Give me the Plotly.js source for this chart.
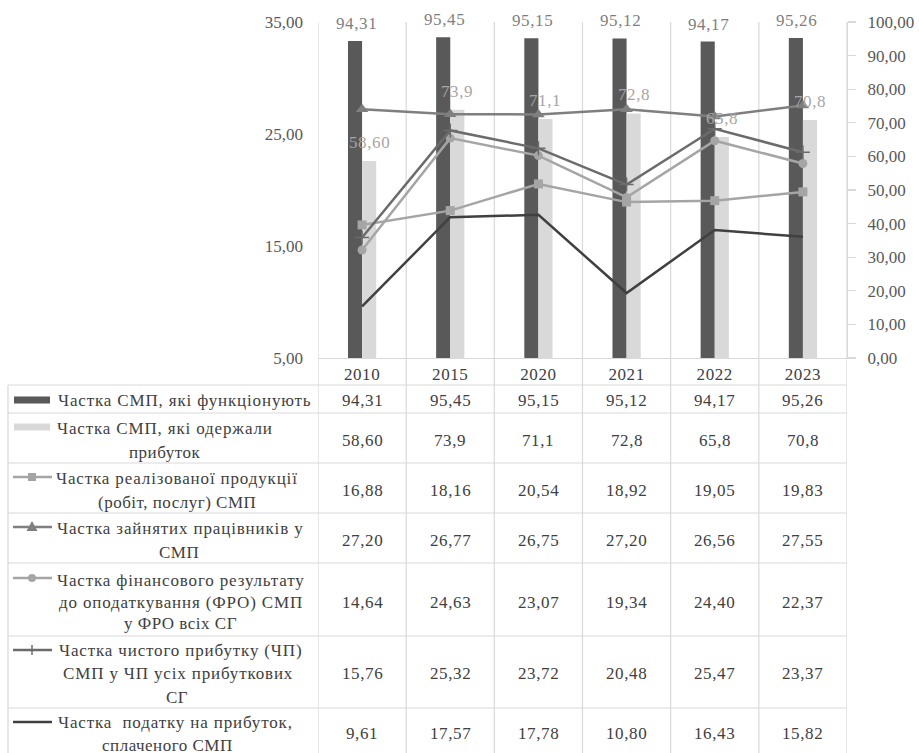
<!DOCTYPE html>
<html><head><meta charset="utf-8">
<script src="https://cdn.plot.ly/plotly-3.0.1.min.js"></script>
<style>html,body{margin:0;padding:0;background:#fff}#chart{width:919px;height:753px}</style>
</head><body><div id="chart"></div>
<script>
const years = ['2010','2015','2020','2021','2022','2023'];
const functioning = [94.31, 95.45, 95.15, 95.12, 94.17, 95.26];
const profitable = [58.60, 73.9, 71.1, 72.8, 65.8, 70.8];
const profitableLabels = ['58,60','73,9','71,1','72,8','65,8','70,8'];
const salesShare = [16.88, 18.16, 20.54, 18.92, 19.05, 19.83];
const employedShare = [27.20, 26.77, 26.75, 27.20, 26.56, 27.55];
const preTaxShare = [14.64, 24.63, 23.07, 19.34, 24.40, 22.37];
const netProfitShare = [15.76, 25.32, 23.72, 20.48, 25.47, 23.37];
const taxShare = [9.61, 17.57, 17.78, 10.80, 16.43, 15.82];
const rowNames = [
  ['Частка СМП, які функціонують'],
  ['Частка СМП, які одержали', 'прибуток'],
  ['Частка реалізованої продукції', '(робіт, послуг) СМП'],
  ['Частка зайнятих працівників у', 'СМП'],
  ['Частка фінансового результату', 'до оподаткування (ФРО) СМП', 'у ФРО всіх СГ'],
  ['Частка чистого прибутку (ЧП)', 'СМП у ЧП усіх прибуткових', 'СГ'],
  ['Частка&nbsp; податку на прибуток,', 'сплаченого СМП']
];

const W = 919, H = 753;
const PL = 318, PR = 847, PT = 22, PB = 358;
const X = px => px / W;
const Y = py => 1 - py / H;
const fmt2 = v => v.toFixed(2).replace('.', ',');
const idx = years.map((_, i) => i);
const spaced = (t, s) => `<span style="letter-spacing:${s}px">${t}</span>`;

const C_DARK = '#595959', C_LIGHT = '#d9d9d9';
const C_SALES = '#a5a5a5', C_EMP = '#7f7f7f', C_PRE = '#a5a5a5', C_NET = '#6b6b6b', C_TAX = '#404040';

const traces = [
  {type:'bar', x:idx, y:functioning, yaxis:'y', marker:{color:C_DARK}, hoverinfo:'skip'},
  {type:'bar', x:idx, y:profitable, yaxis:'y', marker:{color:C_LIGHT}, hoverinfo:'skip'},
  {type:'scatter', mode:'lines+markers', x:idx, y:salesShare, yaxis:'y2',
   line:{color:C_SALES, width:2.5}, marker:{symbol:'square', size:9, color:C_SALES}},
  {type:'scatter', mode:'lines+markers', x:idx, y:employedShare, yaxis:'y2',
   line:{color:C_EMP, width:2.5}, marker:{symbol:'triangle-up', size:11, color:C_EMP}},
  {type:'scatter', mode:'lines+markers', x:idx, y:preTaxShare, yaxis:'y2',
   line:{color:C_PRE, width:2.5}, marker:{symbol:'circle', size:9, color:C_PRE}},
  {type:'scatter', mode:'lines+markers', x:idx, y:netProfitShare, yaxis:'y2',
   line:{color:C_NET, width:2.5}, marker:{symbol:'cross-thin', size:10, color:C_NET, line:{color:C_NET, width:1.5}}},
  {type:'scatter', mode:'lines', x:idx, y:taxShare, yaxis:'y2',
   line:{color:C_TAX, width:2.5}}
];

const annotations = [];
const shapes = [];

// bar value labels
idx.forEach(i => {
  annotations.push({xref:'x', yref:'y', x:i, y:functioning[i], text:spaced(fmt2(functioning[i]), 0.6),
    xshift:-6, yshift:6, yanchor:'bottom', showarrow:false, font:{color:'#7f7f7f', size:17}});
  annotations.push({xref:'x', yref:'y', x:i, y:profitable[i], text:spaced(profitableLabels[i], 0.6),
    xshift:7, yshift:7, yanchor:'bottom', showarrow:false, font:{color:'#a6a6a6', size:17}});
});

// data table
const rowCenters = [400, 440, 490, 540, 602, 673, 733.5];
const lineYs = [[400], [428, 452], [478, 502], [528, 552], [580, 602, 623], [650, 673, 697], [722, 745]];
const lineXs = [[184], [165, 164], [177, 177], [180, 179], [181, 181, 180], [180, 178, 177], [175, 167]];
const tableRows = [
  functioning.map(fmt2), profitableLabels, salesShare.map(fmt2), employedShare.map(fmt2),
  preTaxShare.map(fmt2), netProfitShare.map(fmt2), taxShare.map(fmt2)
];
rowNames.forEach((lines, k) => {
  lines.forEach((line, j) => {
    annotations.push({xref:'paper', yref:'paper', x:X(lineXs[k][j]), y:Y(lineYs[k][j]), xanchor:'center', yanchor:'middle',
      text:spaced(line, j === lines.length - 1 && lines.length > 1 ? 0.5 : 0.85), showarrow:false, font:{color:'#404040', size:17}});
  });
  tableRows[k].forEach((t, i) => {
    annotations.push({xref:'x', yref:'paper', x:i, y:Y(rowCenters[k]), yanchor:'middle',
      text:spaced(t, 0.6), showarrow:false, font:{color:'#404040', size:17}});
  });
});

const GRID = '#d9d9d9';
// horizontal table lines
[385, 413, 463, 513, 563, 636, 708].forEach(py => {
  shapes.push({type:'line', xref:'paper', yref:'paper', x0:X(8), x1:X(PR), y0:Y(py), y1:Y(py), line:{color:GRID, width:1.2}});
});
// vertical lines at category boundaries (plot + table)
for (let i = 0; i <= years.length; i++) {
  shapes.push({type:'line', xref:'x', yref:'paper', x0:i-0.5, x1:i-0.5, y0:Y(PT), y1:0, layer:'below', line:{color:GRID, width:1.2}});
}
shapes.push({type:'line', xref:'paper', yref:'paper', x0:X(8), x1:X(8), y0:Y(385), y1:0, line:{color:GRID, width:1.2}});

// legend keys
const keyY = [400, 427, 477, 527, 578, 650, 722];
shapes.push({type:'rect', xref:'paper', yref:'paper', x0:X(14), x1:X(50), y0:Y(keyY[0]-3.5), y1:Y(keyY[0]+3.5), fillcolor:C_DARK, line:{width:0}});
shapes.push({type:'rect', xref:'paper', yref:'paper', x0:X(14), x1:X(50), y0:Y(keyY[1]-3.5), y1:Y(keyY[1]+3.5), fillcolor:C_LIGHT, line:{width:0}});
[[2, C_SALES], [3, C_EMP], [4, C_PRE], [5, C_NET], [6, C_TAX]].forEach(([k, c]) => {
  shapes.push({type:'line', xref:'paper', yref:'paper', x0:X(13), x1:X(52), y0:Y(keyY[k]), y1:Y(keyY[k]), line:{color:c, width:2.5}});
});
shapes.push({type:'rect', xref:'paper', yref:'paper', x0:X(28), x1:X(36), y0:Y(keyY[2]-4), y1:Y(keyY[2]+4), fillcolor:C_SALES, line:{width:0}});
shapes.push({type:'path', xref:'paper', yref:'paper',
  path:`M ${X(32)},${Y(keyY[3]-6)} L ${X(37.5)},${Y(keyY[3]+4)} L ${X(26.5)},${Y(keyY[3]+4)} Z`, fillcolor:C_EMP, line:{width:0}});
shapes.push({type:'circle', xref:'paper', yref:'paper', x0:X(28), x1:X(36), y0:Y(keyY[4]-4), y1:Y(keyY[4]+4), fillcolor:C_PRE, line:{width:0}});
shapes.push({type:'line', xref:'paper', yref:'paper', x0:X(32), x1:X(32), y0:Y(keyY[5]-5), y1:Y(keyY[5]+5), line:{color:C_NET, width:1.5}});

const layout = {
  width:W, height:H, margin:{l:0, r:0, t:0, b:0},
  paper_bgcolor:'#ffffff', plot_bgcolor:'rgba(0,0,0,0)',
  showlegend:false, separators:', ',
  font:{family:'"Liberation Serif", "Times New Roman", serif', size:17, color:'#595959'},
  barmode:'group', bargap:0.68, bargroupgap:0,
  xaxis:{domain:[X(PL), X(PR)], type:'linear', range:[-0.5, years.length - 0.5],
    tickmode:'array', tickvals:idx, ticktext:years.map(y => spaced(y, 0.6)),
    showgrid:false, zeroline:false, ticks:'',
    showline:true, linecolor:GRID, linewidth:1.2, tickfont:{color:'#404040', size:17}, ticklabelstandoff:0},
  yaxis:{domain:[Y(PB), Y(PT)], range:[0, 100], dtick:10, tick0:0, tickformat:'.2f', side:'right',
    showline:true, linecolor:GRID, linewidth:1.2, ticks:'outside', ticklen:8, tickcolor:GRID, tickwidth:1.2,
    showgrid:false, zeroline:false, ticklabelstandoff:8},
  yaxis2:{overlaying:'y', side:'left', range:[5, 35], dtick:10, tick0:5, tickformat:'.2f',
    showgrid:false, zeroline:false, showline:false, ticks:'', ticklabelstandoff:14},
  annotations, shapes
};

Plotly.newPlot('chart', traces, layout, {staticPlot:true});
</script>
</body></html>
